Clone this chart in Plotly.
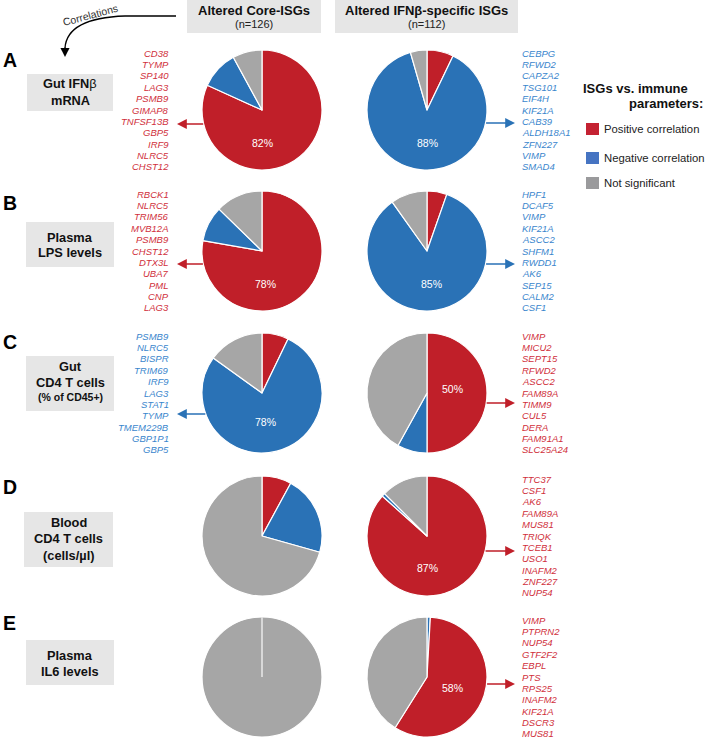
import math
import plotly.graph_objects as go

# ---------------- data ----------------
rows = ["A", "B", "C", "D", "E"]
row_label_lines = [["Gut IFN\u03b2", "mRNA"], ["Plasma", "LPS levels"],
                   ["Gut", "CD4 T cells", "(% of CD45+)"],
                   ["Blood", "CD4 T cells", "(cells/\u00b5l)"], ["Plasma", "IL6 levels"]]
categories = ["Positive correlation", "Negative correlation", "Not significant"]

core_pos = [103, 98, 9, 10, 0]
core_neg = [13, 12, 98, 27, 0]
core_ns = [10, 16, 19, 89, 126]
spec_pos = [8, 6, 56, 97, 65]
spec_neg = [99, 95, 9, 1, 1]
spec_ns = [5, 11, 47, 14, 46]

core_highlight = ["pos", "pos", "neg", None, None]
spec_highlight = ["neg", "neg", "pos", "pos", "pos"]

core_genes = [
    ["CD38", "TYMP", "SP140", "LAG3", "PSMB9", "GIMAP8", "TNFSF13B", "GBP5", "IRF9", "NLRC5", "CHST12"],
    ["RBCK1", "NLRC5", "TRIM56", "MVB12A", "PSMB9", "CHST12", "DTX3L", "UBA7", "PML", "CNP", "LAG3"],
    ["PSMB9", "NLRC5", "BISPR", "TRIM69", "IRF9", "LAG3", "STAT1", "TYMP", "TMEM229B", "GBP1P1", "GBP5"],
    [], []]
spec_genes = [
    ["CEBPG", "RFWD2", "CAPZA2", "TSG101", "EIF4H", "KIF21A", "CAB39", "ALDH18A1", "ZFN227", "VIMP", "SMAD4"],
    ["HPF1", "DCAF5", "VIMP", "KIF21A", "ASCC2", "SHFM1", "RWDD1", "AK6", "SEP15", "CALM2", "CSF1"],
    ["VIMP", "MICU2", "SEPT15", "RFWD2", "ASCC2", "FAM89A", "TIMM9", "CUL5", "DERA", "FAM91A1", "SLC25A24"],
    ["TTC37", "CSF1", "AK6", "FAM89A", "MUS81", "TRIQK", "TCEB1", "USO1", "INAFM2", "ZNF227", "NUP54"],
    ["VIMP", "PTPRN2", "NUP54", "GTF2F2", "EBPL", "PTS", "RPS25", "INAFM2", "KIF21A", "DSCR3", "MUS81"]]

# slice order (clockwise from 12 o'clock)
spec_order = [["pos", "neg", "ns"]] * 4 + [["neg", "pos", "ns"]]
core_order = [["pos", "neg", "ns"]] * 5

# ---------------- styles / layout ----------------
W, H = 708, 738
FONT = "Liberation Sans, Arial, sans-serif"
COL = {"pos": "#c01f29", "neg": "#2a72b6", "ns": "#a6a6a6"}
TXT = {"pos": "#d02f3b", "neg": "#3a86cd"}
LEG = {"pos": "#c42232", "neg": "#4674c2", "ns": "#9a9a9c"}
R = 60
CORE_CX, SPEC_CX = 262, 427
ROW_CY = [110, 251, 393, 536, 677]
LINE_H = 11.35
core_pct_off = [(0, 33), (3, 33), (3, 29), None, None]
spec_pct_off = [(0, 33), (4, 33), (25, -4), (0, 32), (25, 11)]
core_arrow_dy = [14, 13, 21, None, None]
spec_arrow_dy = [13, 13, 10, 15, 7]
label_boxes = [(27, 74, 113, 111), (26, 222, 114, 267), (26, 356, 114, 411),
               (24, 512, 113, 567), (26, 640, 114, 685)]
label_line_y = [[83, 100], [237, 252], [366, 382, 397], [522, 538, 555], [655, 671]]
letter_y = [60, 203, 342, 487, 623]

fig = go.Figure()
fig.add_trace(go.Scatter(x=[], y=[], hoverinfo="skip", showlegend=False))

shapes = []
ann = []


def add_pie(cx, cy, counts, order):
    d = {"pos": counts[0], "neg": counts[1], "ns": counts[2]}
    fig.add_trace(go.Pie(
        values=[d[k] for k in order],
        labels=[categories[["pos", "neg", "ns"].index(k)] for k in order],
        marker=dict(colors=[COL[k] for k in order], line=dict(color="white", width=1.2)),
        sort=False, direction="clockwise", rotation=0, textinfo="none",
        hoverinfo="label+value", showlegend=False,
        domain=dict(x=[(cx - R) / W, (cx + R) / W], y=[1 - (cy + R) / H, 1 - (cy - R) / H])))
    return d


for i in range(5):
    cy = ROW_CY[i]
    for side in ("core", "spec"):
        if side == "core":
            cx, counts, order = CORE_CX, (core_pos[i], core_neg[i], core_ns[i]), core_order[i]
            hl, genes, off, ady = core_highlight[i], core_genes[i], core_pct_off[i], core_arrow_dy[i]
        else:
            cx, counts, order = SPEC_CX, (spec_pos[i], spec_neg[i], spec_ns[i]), spec_order[i]
            hl, genes, off, ady = spec_highlight[i], spec_genes[i], spec_pct_off[i], spec_arrow_dy[i]
        d = add_pie(cx, cy, counts, order)
        total = sum(d.values())
        # single full slice: radial seam line
        if max(d.values()) == total:
            shapes.append(dict(type="line", xref="x", yref="y", x0=cx, y0=cy, x1=cx, y1=cy - R,
                               line=dict(color="#e8e8e8", width=1.5), layer="above"))
        if hl:
            pct = round(100 * d[hl] / total)
            ann.append(dict(x=cx + off[0], y=cy + off[1], text=f"{pct}%", showarrow=False,
                            font=dict(family=FONT, size=10.5, color="white"), xanchor="center", yanchor="middle"))
            ay = cy + ady
            edge = math.sqrt(R * R - ady * ady)
            if side == "core":
                tail, head, gx, anchor = cx - edge + 1, 177, 171, "right"
            else:
                tail, head, gx, anchor = cx + edge - 1, 515, 520, "left"
            ann.append(dict(x=head, y=ay, ax=tail, ay=ay, axref="x", ayref="y", xref="x", yref="y",
                            text="", showarrow=True, arrowhead=2, arrowsize=1.4, arrowwidth=1.4,
                            arrowcolor=COL[hl], standoff=0, startstandoff=0))
            n = len(genes)
            for j, g in enumerate(genes):
                ann.append(dict(x=gx, y=cy + (j - (n - 1) / 2) * LINE_H, text=f"<i>{g}</i>",
                                showarrow=False, xanchor=anchor, yanchor="middle",
                                font=dict(family=FONT, size=9.5, color=TXT[hl])))
    # row label box
    x0, y0, x1, y1 = label_boxes[i]
    shapes.append(dict(type="rect", xref="x", yref="y", x0=x0, y0=y0, x1=x1, y1=y1,
                       fillcolor="#e6e6e6", line=dict(width=0), layer="below"))
    for k, line in enumerate(row_label_lines[i]):
        small = line.startswith("(%")
        txt = "<b>Gut IFN</b>\u03b2" if line == "Gut IFN\u03b2" else f"<b>{line}</b>"
        ann.append(dict(x=(x0 + x1) / 2, y=label_line_y[i][k], text=txt, showarrow=False,
                        xanchor="center", yanchor="middle",
                        font=dict(family=FONT, size=10.5 if small else 12.8, color="#111111")))
    ann.append(dict(x=1, y=letter_y[i], text=f"<b>{rows[i]}</b>", showarrow=False,
                    xanchor="left", yanchor="middle", font=dict(family=FONT, size=19.5, color="black")))

# headers
headers = [("Altered Core-ISGs", "(n=126)", 187, 321), ("Altered IFN\u03b2-specific ISGs", "(n=112)", 335, 518)]
for t, n, hx0, hx1 in headers:
    shapes.append(dict(type="rect", xref="x", yref="y", x0=hx0, y0=0, x1=hx1, y1=33,
                       fillcolor="#e6e6e6", line=dict(width=0), layer="below"))
    ann.append(dict(x=(hx0 + hx1) / 2, y=10, text=f"<b>{t}</b>", showarrow=False, xanchor="center",
                    yanchor="middle", font=dict(family=FONT, size=13, color="#111111")))
    ann.append(dict(x=(hx0 + hx1) / 2, y=24, text=n, showarrow=False, xanchor="center",
                    yanchor="middle", font=dict(family=FONT, size=11, color="#222222")))

# correlations curved arrow
shapes.append(dict(type="path", xref="x", yref="y", path="M 176,16 L 125,16 Q 67,18 65,48",
                   line=dict(color="black", width=1.3)))
ann.append(dict(x=65, y=57, ax=65, ay=46, axref="x", ayref="y", xref="x", yref="y", text="",
                showarrow=True, arrowhead=2, arrowsize=1.4, arrowwidth=1.3, arrowcolor="black",
                standoff=0))
ann.append(dict(x=90, y=15, text="Correlations", showarrow=False, textangle=-15, xanchor="center",
                yanchor="middle", font=dict(family=FONT, size=10.5, color="#333333")))

# legend
ann.append(dict(x=690, y=88, text="<b>ISGs vs. immune</b>", showarrow=False, xanchor="right",
                yanchor="middle", font=dict(family=FONT, size=13, color="#111111")))
ann.append(dict(x=705, y=103, text="<b>parameters:</b>", showarrow=False, xanchor="right",
                yanchor="middle", font=dict(family=FONT, size=13, color="#111111")))
for k, (key, cyl) in enumerate(zip(["pos", "neg", "ns"], [129, 158, 183])):
    shapes.append(dict(type="rect", xref="x", yref="y", x0=586, y0=cyl - 6, x1=599, y1=cyl + 6,
                       fillcolor=LEG[key], line=dict(width=0)))
    ann.append(dict(x=602, y=cyl, text=categories[k], showarrow=False, xanchor="left", yanchor="middle",
                    font=dict(family=FONT, size=11.3, color="#222222")))

fig.update_layout(
    width=W, height=H, margin=dict(l=0, r=0, t=0, b=0),
    paper_bgcolor="white", plot_bgcolor="white",
    xaxis=dict(range=[0, W], visible=False, fixedrange=True),
    yaxis=dict(range=[H, 0], visible=False, fixedrange=True),
    shapes=shapes, annotations=ann, showlegend=False)

fig.write_html("out.html", config={"displayModeBar": False},
               post_script="document.body.style.margin='0';document.body.style.padding='0';")
